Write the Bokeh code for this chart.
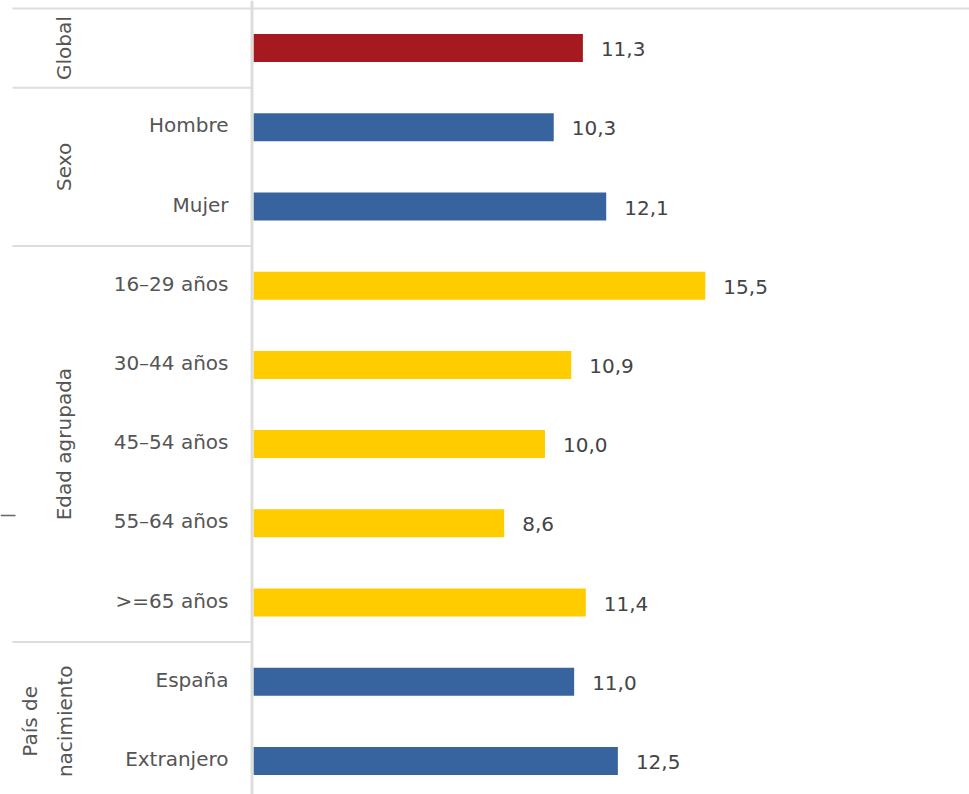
import math
from bokeh.plotting import figure
from bokeh.models import ColumnDataSource, Range1d, Span
from bokeh.core.properties import value
from bokeh.embed import file_html
from bokeh.resources import INLINE

# ---- data ----
categories = ["", "Hombre", "Mujer", "16–29 años", "30–44 años", "45–54 años",
              "55–64 años", ">=65 años", "España", "Extranjero"]
values = [11.3, 10.3, 12.1, 15.5, 10.9, 10.0, 8.6, 11.4, 11.0, 12.5]
group_names = ["Global", "Sexo", "Edad agrupada", "País de\nnacimiento"]
group_sizes = [1, 2, 5, 2]
group_colors = ["#A5191F", "#37649E", "#FFCC00", "#37649E"]

# ---- layout constants (pixels) ----
W, H = 969, 794
PX = 29.15          # pixels per unit on x
AXIS_X = 253        # canvas x of the value-0 axis
TOP = 8             # canvas y of the first row's top edge
ROW = 79.2          # pixels per category row
FONT = value("DejaVu Sans")
FS = "20px"
LINE = "#dddddd"

x_start = -AXIS_X / PX
x_end = (W - AXIS_X) / PX
y_top = -TOP / ROW
y_bottom = (H - TOP) / ROW

n = len(categories)
ys = [i + 0.5 for i in range(n)]
colors = []
for c, s in zip(group_colors, group_sizes):
    colors += [c] * s
labels = [f"{v:.1f}".replace(".", ",") for v in values]

src = ColumnDataSource(dict(y=ys, v=values, color=colors, cat=categories, lab=labels))

p = figure(width=W, height=H, x_range=Range1d(x_start, x_end),
           y_range=Range1d(start=y_bottom, end=y_top),
           output_backend="svg", toolbar_location=None, min_border=0,
           x_axis_location=None, y_axis_location=None)
p.outline_line_color = None
p.grid.visible = False
p.background_fill_color = "white"
p.border_fill_color = "white"

LEFT = x_start + 12 / PX

# top line
p.segment(x0=[LEFT], x1=[x_end], y0=[0], y1=[0], line_color=LINE, line_width=2)

# group separator lines
bounds = []
acc = 0
for s in group_sizes[:-1]:
    acc += s
    bounds.append(acc)
p.segment(x0=[LEFT] * len(bounds), x1=[-1 / PX] * len(bounds),
          y0=bounds, y1=bounds, line_color=LINE, line_width=2)

# small dark tick on the far left edge
tick_y = (515 - TOP) / ROW
p.segment(x0=[x_start], x1=[x_start + 15 / PX], y0=[tick_y], y1=[tick_y],
          line_color="#666666", line_width=1.5)

# vertical axis line
p.add_layout(Span(location=-1.5 / PX, dimension="height", line_color=LINE, line_width=3))

# bars
p.hbar(y="y", left=0, right="v", height=0.354, fill_color="color", line_color=None, source=src)

# category labels
p.text(x=0, y="y", text="cat", source=src, x_offset=-25, y_offset=-2,
       text_align="right", text_baseline="middle", text_font=FONT,
       text_font_size=FS, text_color="#555555")

# value labels
p.text(x="v", y="y", text="lab", source=src, x_offset=18, y_offset=1,
       text_align="left", text_baseline="middle", text_font=FONT,
       text_font_size=FS, text_color="#444444")

# group labels (rotated)
gy, gx_off = [], []
acc = 0
for name, s in zip(group_names, group_sizes):
    gy.append(acc + s / 2)
    acc += s
    nlines = name.count("\n") + 1
    gx_off.append(-190 - (nlines - 1) * 16)
gsrc = ColumnDataSource(dict(y=gy, name=group_names, xo=gx_off, x=[0] * len(gy)))
p.text(x="x", y="y", text="name", source=gsrc, x_offset="xo", angle=math.pi / 2,
       text_align="center", text_baseline="middle", text_font=FONT,
       text_font_size=FS, text_color="#555555", text_line_height=1.42)

open("out.html", "w").write(file_html(p, INLINE))
